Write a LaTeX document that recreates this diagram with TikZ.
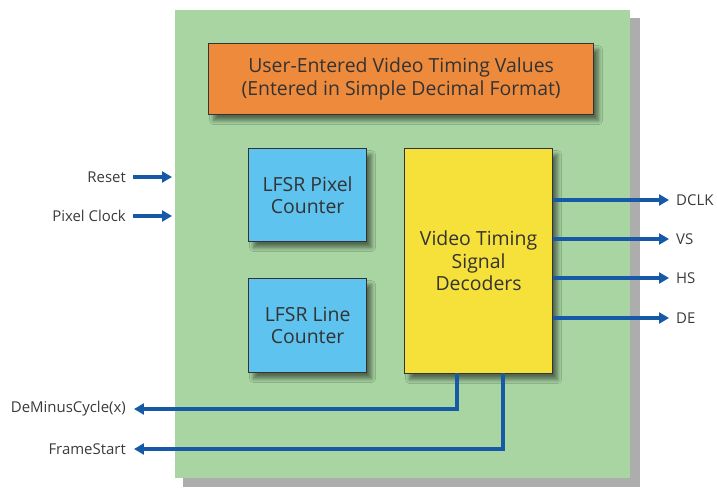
\documentclass[tikz,border=0pt]{standalone}
\usepackage{fontspec}
\setmainfont{Open Sans}
\usetikzlibrary{arrows.meta,shadows.blur}
\definecolor{bggreen}{HTML}{A8D5A2}
\definecolor{orangebox}{HTML}{EE8A3C}
\definecolor{bluebox}{HTML}{5EC3EE}
\definecolor{yellowbox}{HTML}{F6E03A}
\definecolor{arrowblue}{HTML}{1659A6}
\definecolor{txt}{HTML}{3A3A3A}
\begin{document}
\begin{tikzpicture}[x=1bp,y=-1bp,
  blockbox/.style={draw=black!80, line width=1.2pt, text=black!80, align=center, font=\fontsize{19.5}{22.5}\selectfont,
    blur shadow={shadow xshift=5pt, shadow yshift=-6pt, shadow blur steps=8, shadow blur radius=4pt, shadow opacity=50}},
  sig/.style={arrowblue, line width=3.2pt, -{Triangle[length=10pt,width=11pt]}},
  lbl/.style={text=txt, font=\fontsize{15}{17}\selectfont, inner sep=0pt}]
\useasboundingbox (0,0) rectangle (717,489);
% shadow of main panel
\fill[black!32] (183,18) rectangle (640,487);
\node[fill=bggreen, minimum width=455bp, minimum height=468bp, inner sep=0pt, anchor=north west] (panel) at (175,10) {};
% blocks
\node[blockbox, fill=orangebox, minimum width=385bp, minimum height=71bp, anchor=north west] (user) at (208,43)
  {User-Entered Video Timing Values\\(Entered in Simple Decimal Format)};
\node[blockbox, fill=bluebox, minimum width=118bp, minimum height=93bp, anchor=north west] (pix) at (248,148)
  {LFSR Pixel\\Counter};
\node[blockbox, fill=bluebox, minimum width=118bp, minimum height=94bp, anchor=north west] (line) at (248,278)
  {LFSR Line\\Counter};
\node[blockbox, fill=yellowbox, minimum width=148bp, minimum height=225bp, anchor=north west] (vtd) at (404,148)
  {Video Timing\\Signal\\Decoders};
% inputs
\node[lbl, anchor=east] (reset) at (126,177) {Reset};
\node[lbl, anchor=east] (pclk) at (126,216) {Pixel Clock};
\coordinate (resetend) at (172,177);
\coordinate (pclkend) at (172,216);
\draw[sig] (reset.east) ++(7,0) -- (resetend);
\draw[sig] (pclk.east) ++(7,0) -- (pclkend);
% outputs
\node[lbl, anchor=west] (dclk) at (676,200) {DCLK};
\node[lbl, anchor=west] (vs) at (676,239) {VS};
\node[lbl, anchor=west] (hs) at (676,278) {HS};
\node[lbl, anchor=west] (de) at (676,318) {DE};
\draw[sig] (vtd.east |- dclk) -- ([xshift=-7bp]dclk.west);
\draw[sig] (vtd.east |- vs) -- ([xshift=-7bp]vs.west);
\draw[sig] (vtd.east |- hs) -- ([xshift=-7bp]hs.west);
\draw[sig] (vtd.east |- de) -- ([xshift=-7bp]de.west);
% bottom outputs
\node[lbl, anchor=east] (demc) at (126,409) {DeMinusCycle(x)};
\node[lbl, anchor=east] (fs) at (126,449) {FrameStart};
\coordinate (p1) at (457,373);
\coordinate (p2) at (503,373);
\draw[sig] (p1) |- ([xshift=8bp]demc.east);
\draw[sig] (p2) |- ([xshift=8bp]fs.east);
\end{tikzpicture}
\end{document}
